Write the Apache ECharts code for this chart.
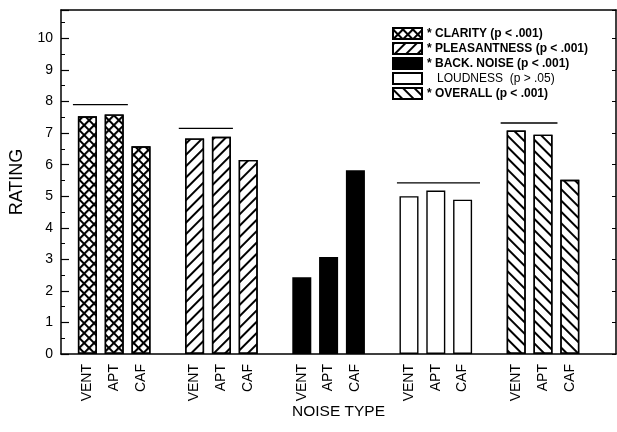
<!DOCTYPE html>
<html>
<head>
<meta charset="utf-8">
<script src="https://cdn.jsdelivr.net/npm/echarts@6/dist/echarts.min.js"></script>
<style>
  html, body { margin: 0; padding: 0; background: #fff; }
  #chart { width: 617px; height: 432px; }
</style>
</head>
<body>
<div id="chart"></div>
<script>
// Noise sources tested within each rating scale
const noiseTypes = ['VENT', 'APT', 'CAF'];

// Rating scales (legend entries)
const measureNames = [
  '* CLARITY (p < .001)',
  '* PLEASANTNESS (p < .001)',
  '* BACK. NOISE (p < .001)',
  'LOUDNESS  (p > .05)',
  '* OVERALL (p < .001)'
];

// Mean ratings per noise type (VENT, APT, CAF)
const clarity      = [7.53, 7.59, 6.58];
const pleasantness = [6.83, 6.88, 6.15];
const backNoise    = [2.43, 3.07, 5.82];
const loudness     = [5.00, 5.18, 4.89];
const overall      = [7.08, 6.95, 5.52];

// Bracket lines above groups: level, start and end (in bar-slot units)
const bracketLevel = [7.90, 7.15, null, 5.42, 7.32];
const bracketFrom  = [-0.54, 3.41, null, 11.55, 15.42];
const bracketTo    = [1.51, 5.43, null, 14.65, 17.54];

// Rating axis tick values
const ratingTicks = [0, 1, 2, 3, 4, 5, 6, 7, 8, 9, 10];

const allValues = [clarity, pleasantness, backNoise, loudness, overall];
const FONT = "'Liberation Sans', Arial, Helvetica, sans-serif";
const RATING_MAX = 10.9;

// 19 slots: 5 groups of 3 bars with one empty slot between groups
const slotLabels = [];
allValues.forEach((vals, g) => {
  noiseTypes.forEach(t => slotLabels.push(t));
  if (g < allValues.length - 1) slotLabels.push('');
});

function slotData(g) {
  const arr = slotLabels.map(() => '-');
  allValues[g].forEach((v, j) => { arr[g * 4 + j] = v; });
  return arr;
}

// Fill patterns
const hatchUp = {
  symbol: 'rect', symbolSize: 1,
  dashArrayX: [1, 0], dashArrayY: [1.6, 5.2],
  rotation: -Math.PI / 4, color: '#000'
};
const hatchDown = {
  symbol: 'rect', symbolSize: 1,
  dashArrayX: [1, 0], dashArrayY: [1.6, 5.2],
  rotation: Math.PI / 4, color: '#000'
};
const crossHatch = {
  symbol: 'path://M0,0H10V3H3V10H0Z', symbolSize: 1,
  dashArrayX: [7, 0], dashArrayY: [7, 0],
  rotation: Math.PI / 4, color: '#000'
};

const styles = [
  { color: '#fff', decal: crossHatch },
  { color: '#fff', decal: hatchUp },
  { color: '#000', decal: null },
  { color: '#fff', decal: null },
  { color: '#fff', decal: hatchDown }
];

const barSeries = measureNames.map((name, g) => ({
  name: name,
  type: 'bar',
  xAxisIndex: 2,
  yAxisIndex: 2,
  barWidth: 19,
  barGap: '-100%',
  data: slotData(g),
  itemStyle: {
    color: styles[g].color,
    decal: styles[g].decal,
    borderColor: '#000',
    borderWidth: 1.4
  },
  silent: true
}));

const bracketSeries = [];
bracketLevel.forEach((lvl, g) => {
  if (lvl == null) return;
  bracketSeries.push({
    type: 'line',
    xAxisIndex: 0,
    yAxisIndex: 0,
    symbol: 'none',
    silent: true,
    lineStyle: { color: '#000', width: 1.3 },
    data: [[bracketFrom[g], lvl], [bracketTo[g], lvl]]
  });
});

const chart = echarts.init(document.getElementById('chart'), null, { renderer: 'canvas' });
chart.setOption({
  animation: false,
  backgroundColor: '#fff',
  textStyle: { fontFamily: FONT, color: '#000' },
  grid: [
    { left: 61, right: 1, top: 10, bottom: 78 },
    { left: 74, width: 509.2, top: 10, bottom: 78 }
  ],
  legend: {
    data: measureNames,
    orient: 'vertical',
    left: 387,
    top: 22,
    icon: 'rect',
    itemWidth: 29,
    itemHeight: 11,
    itemGap: 2,
    selectedMode: false,
    formatter: name => name.charAt(0) === '*' ? '{b|' + name + '}' : '{n|   ' + name + '}',
    textStyle: {
      fontFamily: FONT,
      color: '#000',
      rich: {
        b: { fontFamily: FONT, fontSize: 12, fontWeight: 'bold', color: '#000' },
        n: { fontFamily: FONT, fontSize: 12, fontWeight: 'normal', color: '#000' }
      }
    }
  },
  xAxis: [
    {
      // frame: bottom edge and axis title
      gridIndex: 0, type: 'value', position: 'bottom',
      min: (61 - 87.4) / 26.8, max: (616 - 87.4) / 26.8,
      axisLine: { show: true, onZero: false, lineStyle: { color: '#000', width: 1.5 } },
      axisTick: { show: false }, axisLabel: { show: false },
      splitLine: { show: false },
      name: 'NOISE TYPE', nameLocation: 'middle', nameGap: 50,
      nameTextStyle: { fontFamily: FONT, fontSize: 15.5, color: '#000' }
    },
    {
      // frame: top edge
      gridIndex: 0, type: 'value', position: 'top',
      min: 0, max: 1,
      axisLine: { show: true, onZero: false, lineStyle: { color: '#000', width: 1.5 } },
      axisTick: { show: false }, axisLabel: { show: false },
      splitLine: { show: false }
    },
    {
      // bar slots
      gridIndex: 1, type: 'category', data: slotLabels,
      axisLine: { show: false, onZero: false }, axisTick: { show: false },
      splitLine: { show: false },
      axisLabel: {
        interval: 0, rotate: 90, margin: 10,
        fontFamily: FONT, fontSize: 14, color: '#000'
      }
    }
  ],
  yAxis: [
    {
      gridIndex: 0, type: 'value', position: 'left',
      min: 0, max: RATING_MAX, interval: 1,
      axisLine: { show: true, onZero: false, lineStyle: { color: '#000', width: 1.5 } },
      axisTick: { show: true, inside: true, length: 8, lineStyle: { color: '#000', width: 1.2 } },
      minorTick: { show: true, splitNumber: 2, length: 4, lineStyle: { color: '#000', width: 1 } },
      splitLine: { show: false },
      axisLabel: {
        margin: 8, fontFamily: FONT, fontSize: 14, color: '#000',
        formatter: v => ratingTicks.indexOf(v) >= 0 ? String(v) : ''
      },
      name: 'RATING', nameLocation: 'middle', nameGap: 33, nameRotate: 90,
      nameTextStyle: { fontFamily: FONT, fontSize: 18, color: '#000' }
    },
    {
      gridIndex: 0, type: 'value', position: 'right',
      min: 0, max: RATING_MAX, interval: 1,
      axisLine: { show: true, onZero: false, lineStyle: { color: '#000', width: 1.5 } },
      axisTick: { show: true, inside: true, length: 4, lineStyle: { color: '#000', width: 1 } },
      axisLabel: { show: false },
      splitLine: { show: false }
    },
    {
      gridIndex: 1, type: 'value', min: 0, max: RATING_MAX,
      show: false, splitLine: { show: false }
    }
  ],
  series: barSeries.concat(bracketSeries)
});
</script>
</body>
</html>
